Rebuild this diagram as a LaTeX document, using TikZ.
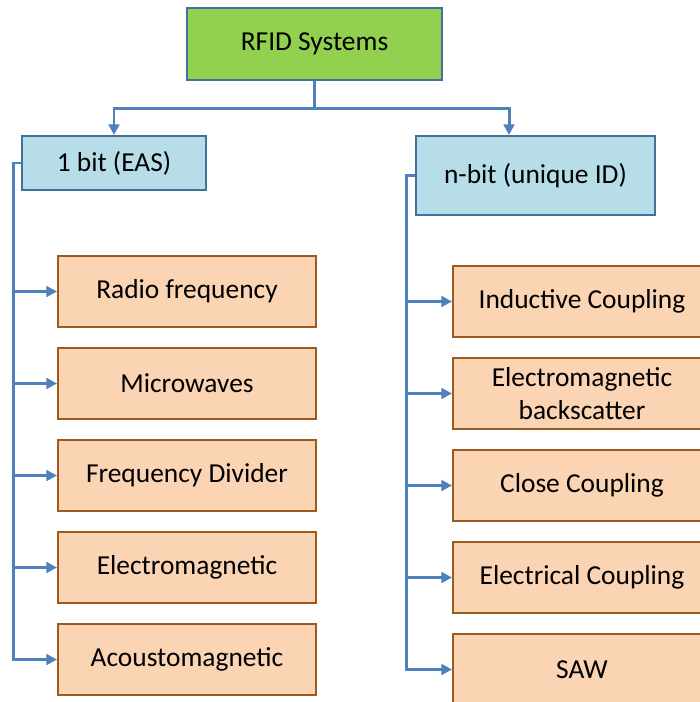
\documentclass[tikz,border=0pt]{standalone}
\usepackage{fontspec}
\setmainfont{Carlito}
\usetikzlibrary{positioning,arrows.meta}
\definecolor{rootcol}{HTML}{92D050}
\definecolor{framecol}{HTML}{41719C}
\definecolor{groupcol}{HTML}{B7DEE8}
\definecolor{leafcol}{HTML}{FBD4B4}
\definecolor{leafframe}{HTML}{9C5A1E}
\definecolor{linkcol}{HTML}{4F81BD}
\tikzstyle{box}=[draw,line width=1.1pt,inner sep=2pt,align=center,font=\fontsize{15.6}{18.5}\selectfont]
\tikzstyle{root}=[box,framecol,fill=rootcol,text=black,minimum width=5.1cm,minimum height=1.44cm]
\tikzstyle{group}=[box,framecol,fill=groupcol,text=black]
\tikzstyle{leaf}=[box,leafframe,fill=leafcol,text=black,minimum width=5.16cm,minimum height=1.42cm]
\tikzstyle{link}=[-{Triangle[length=6pt,width=6pt]},line width=1.7pt,linkcol]

\begin{document}
\begin{tikzpicture}
        \useasboundingbox (0,0) rectangle (13.98,-14.04);
        
        \node[root] (rfid) at (6.29,-0.88) {RFID Systems};
        \node[group,minimum width=3.68cm,minimum height=1.08cm] (ebit) at (2.28,-3.26) {1 bit (EAS)};
        \node[group,minimum width=4.78cm,minimum height=1.58cm] (nbit) at (10.71,-3.51) {n-bit (unique ID)};
        
        \draw[link] (rfid.south) -- ++(0,-0.56) -| (ebit.north);
        \draw[link] (rfid.south) -- ++(0,-0.56) -| ([xshift=-0.53cm]nbit.north);
        
        % 1 bit branch
        \foreach \name/\txt [count=\i from 0] in {rf/Radio frequency,mw/Microwaves,fd/Frequency Divider,em/Electromagnetic,am/Acoustomagnetic}{
            \node[leaf] (\name) at (3.74,{-5.83-1.84*\i}) {\txt};
            \draw[link] (ebit.west) -- ++(-0.16,0) |- (\name.west);
        }
        
        % n-bit branch
        \foreach \name/\txt [count=\i from 0] in {ic/Inductive Coupling,eb/Electromagnetic\\backscatter,cc/Close Coupling,ec/Electrical Coupling,saw/SAW}{
            \node[leaf] (\name) at (11.64,{-6.03-1.84*\i}) {\txt};
            \draw[link] (nbit.west) -- ++(-0.18,0) |- (\name.west);
        }
    \end{tikzpicture}
\end{document}
